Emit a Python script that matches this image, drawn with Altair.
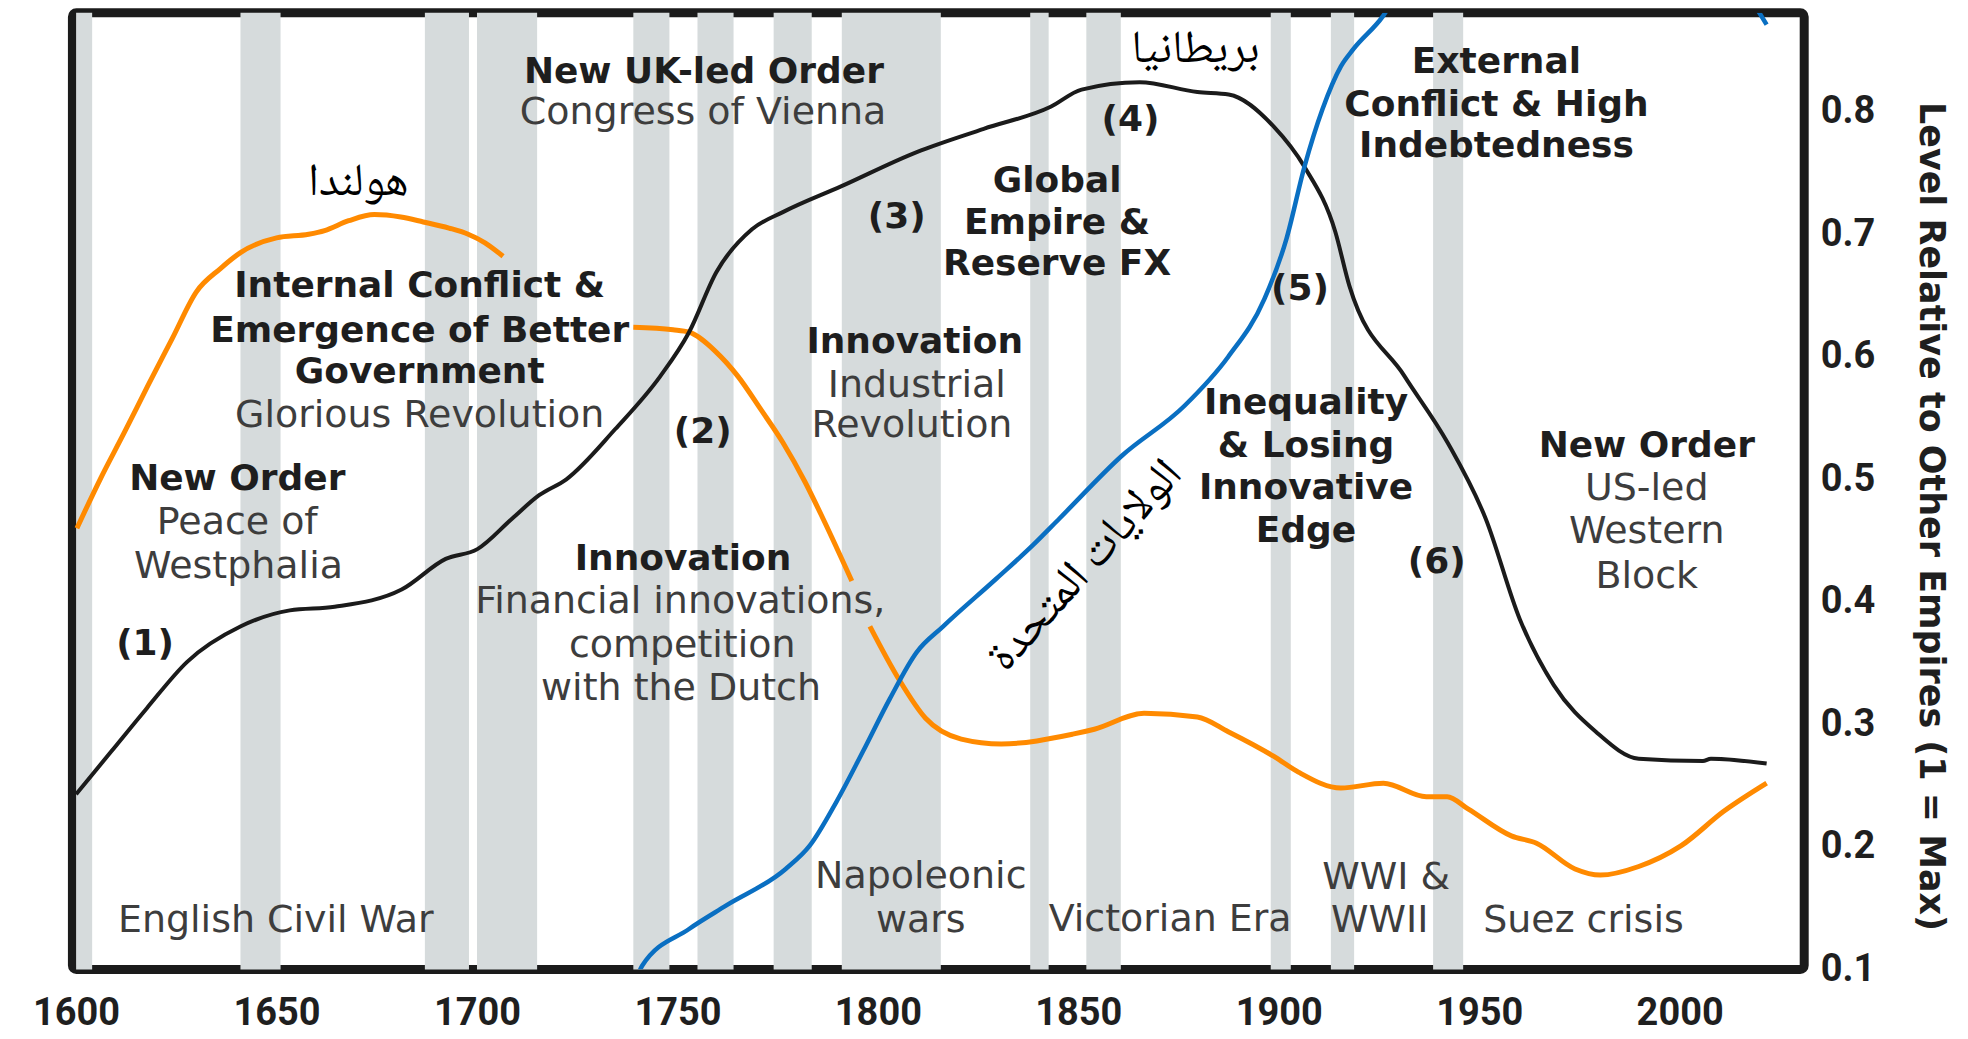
import altair as alt
import pandas as pd

# ---------------- data ----------------
X_DOMAIN = [1599.08, 2031.07]
Y_DOMAIN = [0.1, 0.8808]

x_ticks = [1600, 1650, 1700, 1750, 1800, 1850, 1900, 1950, 2000]
y_ticks = [0.1, 0.2, 0.3, 0.4, 0.5, 0.6, 0.7, 0.8]

# shaded (war) periods
band_start = [1600, 1641, 1687, 1700, 1739, 1755, 1774, 1791, 1838, 1852, 1898, 1913, 1938.5]
band_end = [1604, 1651, 1698, 1715, 1748, 1764, 1783.5, 1815.7, 1842.6, 1860.6, 1903, 1918.8, 1946]

# Britain (black)
uk_year = [1600.0, 1608.8, 1617.6, 1627.7, 1641.1, 1653.3, 1664.5, 1681.2, 1692.2, 1700.1,
           1708.8, 1715.5, 1722.3, 1734.5, 1745.7, 1752.9, 1759.7, 1768.6, 1776.3, 1790.8,
           1809.7, 1826.4, 1843.1, 1850.8, 1865.3, 1879.7, 1887.5, 1898.7, 1906.4, 1914.1,
           1917.6, 1931.4, 1942.1, 1951.6, 1960.1, 1968.6, 1979.1, 1989.8, 2005.8, 2007.8, 2021.7]
uk_val = [0.243, 0.278, 0.313, 0.351, 0.380, 0.393, 0.396, 0.410, 0.435, 0.443,
          0.468, 0.487, 0.500, 0.541, 0.584, 0.620, 0.669, 0.704, 0.718, 0.739,
          0.767, 0.786, 0.804, 0.818, 0.824, 0.816, 0.814, 0.788, 0.755, 0.702,
          0.658, 0.584, 0.530, 0.468, 0.386, 0.332, 0.294, 0.272, 0.270, 0.272, 0.268]

# Netherlands (orange) - three visible pieces
nl_year_1 = [1600.2, 1606, 1612, 1618, 1624, 1630, 1636, 1641, 1650, 1658, 1662, 1668,
             1674.4, 1681, 1686.6, 1693, 1697.8, 1702, 1706.5]
nl_val_1 = [0.460, 0.500, 0.538, 0.577, 0.615, 0.653, 0.672, 0.685, 0.697, 0.700, 0.703, 0.711,
            0.716, 0.714, 0.710, 0.705, 0.700, 0.693, 0.682]
nl_year_2 = [1739.0, 1748.9, 1752.9, 1759.6, 1765.1, 1770.8, 1776.3, 1781.8, 1786.3, 1793.5]
nl_val_2 = [0.624, 0.622, 0.620, 0.604, 0.584, 0.557, 0.530, 0.498, 0.468, 0.417]
nl_year_3 = [1798.0, 1805.2, 1811.9, 1820.8, 1830.8, 1848.6, 1854.0, 1866.4, 1879.7, 1887.4,
             1898.7, 1904.9, 1915.5, 1926.1, 1936.8, 1942.0, 1947.2, 1958.0, 1964.3, 1973.9,
             1980.2, 1989.8, 2000.4, 2011.0, 2021.7]
nl_val_3 = [0.380, 0.337, 0.305, 0.288, 0.284, 0.292, 0.296, 0.309, 0.306, 0.294,
            0.274, 0.261, 0.248, 0.252, 0.241, 0.241, 0.231, 0.209, 0.203, 0.182,
            0.177, 0.184, 0.201, 0.229, 0.252]

# United States (blue) - runs off the top of the chart after ~1926
us_year = [1740.0, 1741.2, 1752.9, 1762.1, 1777.0, 1783.0, 1789.7, 1796.3, 1803.0, 1809.7,
           1816.3, 1829.6, 1838.6, 1845.3, 1860.8, 1876.5, 1887.4, 1896.4, 1901.9, 1906.4,
           1910.9, 1915.5, 1918.6, 1926.0, 1935, 1950, 1970, 1990, 2005, 2015, 2021.7]
us_val = [0.094, 0.103, 0.133, 0.152, 0.182, 0.201, 0.237, 0.278, 0.321, 0.359,
          0.380, 0.419, 0.446, 0.468, 0.519, 0.560, 0.600, 0.647, 0.696, 0.755,
          0.802, 0.837, 0.851, 0.878, 0.93, 0.98, 1.0, 0.98, 0.94, 0.905, 0.871]

# annotations: text, anchor year, anchor value, style
ann_text = ["Internal Conflict &", "Emergence of Better", "Government", "Glorious Revolution",
            "New Order", "Peace of", "Westphalia", "(1)", "English Civil War",
            "New UK-led Order", "Congress of Vienna",
            "Innovation", "Financial innovations,", "competition", "with the Dutch", "(2)",
            "(3)", "(4)", "Global", "Empire &", "Reserve FX",
            "Innovation", "Industrial", "Revolution",
            "(5)", "Inequality", "& Losing", "Innovative", "Edge",
            "External", "Conflict & High", "Indebtedness",
            "New Order", "US-led", "Western", "Block", "(6)",
            "Napoleonic", "wars", "Victorian Era", "WWI &", "WWII", "Suez crisis",
            "هولندا", "بريطانيا", "الولايات المتحدة"]
ann_year = [1685.7, 1685.7, 1685.7, 1685.7,
            1640.2, 1640.2, 1640.5, 1617.2, 1649.8,
            1756.6, 1756.4,
            1751.4, 1750.7, 1751.2, 1750.9, 1756.3,
            1804.7, 1863.0, 1844.7, 1844.7, 1844.7,
            1809.2, 1809.7, 1808.5,
            1905.3, 1906.8, 1906.8, 1906.8, 1906.8,
            1954.3, 1954.3, 1954.3,
            1991.8, 1991.8, 1991.8, 1991.8, 1939.4,
            1810.7, 1810.7, 1872.9, 1926.8, 1925.2, 1976.0,
            1670.4, 1879.2, 1851.5]
ann_val = [0.6575, 0.6208, 0.5874, 0.5515,
           0.5000, 0.4643, 0.4284, 0.3657, 0.1391,
           0.8327, 0.7993,
           0.4350, 0.4000, 0.3640, 0.3290, 0.5385,
           0.7137, 0.7935, 0.7438, 0.7088, 0.6754,
           0.6118, 0.5760, 0.5433,
           0.6550, 0.5620, 0.5270, 0.4928, 0.4578,
           0.8408, 0.8058, 0.7716,
           0.5270, 0.4920, 0.4570, 0.4203, 0.4325,
           0.1758, 0.1391, 0.1400, 0.1742, 0.1391, 0.1391,
           0.7430, 0.8520, 0.4300]
ann_style = ["b", "b", "b", "r",
             "b", "r", "r", "b", "r",
             "b", "r",
             "b", "r", "r", "r", "b",
             "b", "b", "b", "b", "b",
             "b", "r", "r",
             "b", "b", "b", "b", "b",
             "b", "b", "b",
             "b", "r", "r", "r", "b",
             "r", "r", "r", "r", "r", "r",
             "ar", "ar", "arr"]

# ---------------- chart ----------------
W, H = 1734, 958
xs = alt.Scale(domain=X_DOMAIN, nice=False, zero=False)
ys = alt.Scale(domain=Y_DOMAIN, nice=False, zero=False)
Y_TITLE = "Level Relative to Other Empires (1 = Max)"

x_axis = alt.Axis(values=x_ticks, format="d", title=None, grid=False, domain=False,
                  ticks=False, tickSize=0, labelFont="Roboto", labelFontWeight="bold",
                  labelFontSize=38, labelColor="#1f1f1f", labelPadding=25,
                  labelFlush=False, labelOverlap=False)
y_axis = alt.Axis(orient="right", values=y_ticks, format=".1f", title=Y_TITLE,
                  grid=False, domain=False, ticks=False, tickSize=0,
                  labelFont="Roboto", labelFontWeight="bold", labelFontSize=38,
                  labelColor="#1f1f1f", labelPadding=16, labelAlign="left",
                  labelBaseline="middle", labelFlush=False, labelOverlap=False,
                  titleFont="DejaVu Sans", titleFontWeight="bold", titleFontSize=35,
                  titleColor="#1f1f1f", titleAngle=90, titleX=126, titleY=504,
                  titleAlign="center", titleBaseline="middle")


def X(field):
    return alt.X(field, type="quantitative", scale=xs, axis=x_axis, title=None)


def Y(field):
    return alt.Y(field, type="quantitative", scale=ys, axis=y_axis, title=Y_TITLE)


bands_df = pd.DataFrame({"start": band_start, "end": band_end})
bands = alt.Chart(bands_df).mark_rect(color="#d6dbdc").encode(
    x=X("start"),
    x2="end:Q",
    y=alt.YDatum(Y_DOMAIN[1], type="quantitative", scale=ys, axis=y_axis, title=Y_TITLE),
    y2=alt.Y2Datum(Y_DOMAIN[0]),
)

uk_df = pd.DataFrame({"year": uk_year, "val": uk_val})
nl_df = pd.concat([
    pd.DataFrame({"year": nl_year_1, "val": nl_val_1, "seg": "a"}),
    pd.DataFrame({"year": nl_year_2, "val": nl_val_2, "seg": "b"}),
    pd.DataFrame({"year": nl_year_3, "val": nl_val_3, "seg": "c"}),
])
us_df = pd.DataFrame({"year": us_year, "val": us_val})

orange = alt.Chart(nl_df).mark_line(color="#ff8a00", strokeWidth=5, interpolate="monotone",
                                    clip=True).encode(
    x=X("year"), y=Y("val"), detail="seg:N",
)
black = alt.Chart(uk_df).mark_line(color="#1b1b1b", strokeWidth=4, interpolate="monotone",
                                   clip=True).encode(
    x=X("year"), y=Y("val"),
)
blue = alt.Chart(us_df).mark_line(color="#0a6fc2", strokeWidth=4.5, interpolate="monotone",
                                  clip=True).encode(
    x=X("year"), y=Y("val"),
)

ann_df = pd.DataFrame({"text": ann_text, "year": ann_year, "val": ann_val, "style": ann_style})


def text_layer(style, **kw):
    return alt.Chart(ann_df).transform_filter(alt.datum.style == style).mark_text(
        align="center", baseline="middle", **kw).encode(
        x=X("year"), y=Y("val"), text="text:N",
    )


t_bold = text_layer("b", font="DejaVu Sans", fontWeight="bold", fontSize=36, color="#1e1e1e")
t_reg = text_layer("r", font="DejaVu Sans", fontWeight="normal", fontSize=38, color="#3d3d3d")
t_ar = text_layer("ar", font="Noto Naskh Arabic, DejaVu Sans", fontSize=46, color="#000000")
t_arr = text_layer("arr", font="Noto Naskh Arabic, DejaVu Sans", fontSize=46, color="#000000",
                   angle=312)

chart = alt.layer(bands, orange, black, blue, t_bold, t_reg, t_ar, t_arr).properties(
    width=W, height=H,
    autosize=alt.AutoSizeParams(type="none"),
    padding={"left": 64.5, "top": 4, "right": 156, "bottom": 64},
).configure_view(stroke="#1b1b1b", strokeWidth=9, cornerRadius=4)

chart.save("out.html", embed_options={"renderer": "svg", "actions": False})
